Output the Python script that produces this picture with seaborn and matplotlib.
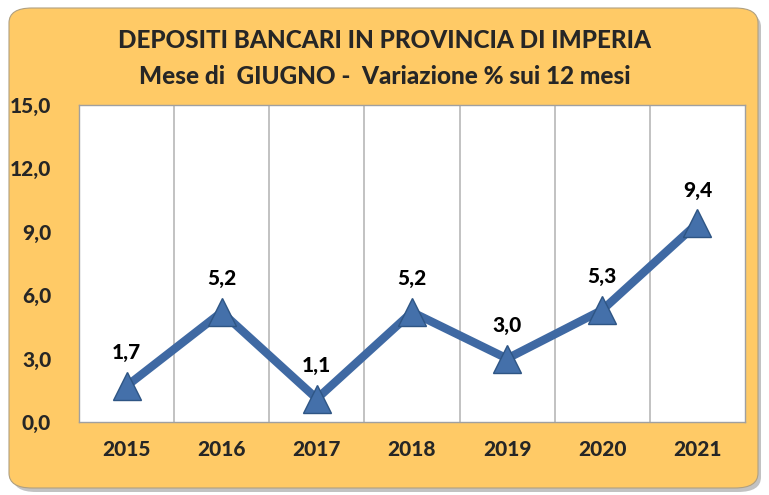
import matplotlib
matplotlib.use("Agg")
import matplotlib.pyplot as plt
import seaborn as sns
import pandas as pd
from matplotlib.patches import FancyBboxPatch

years = ["2015", "2016", "2017", "2018", "2019", "2020", "2021"]
values = [1.7, 5.2, 1.1, 5.2, 3.0, 5.3, 9.4]
labels = ["1,7", "5,2", "1,1", "5,2", "3,0", "5,3", "9,4"]
yticks = [0, 3, 6, 9, 12, 15]
ytick_labels = ["0,0", "3,0", "6,0", "9,0", "12,0", "15,0"]
title_lines = ["DEPOSITI BANCARI IN PROVINCIA DI IMPERIA",
               "Mese di  GIUGNO -  Variazione % sui 12 mesi"]

sns.set_theme(style="white")
plt.rcParams['font.family'] = ['Lato', 'DejaVu Sans']
WEIGHT = "black"

W, H = 769, 495
fig = plt.figure(figsize=(W / 100, H / 100), dpi=100)
fig.patch.set_facecolor("white")

# rounded orange background with soft shadow
shadow = FancyBboxPatch((13 / W, 3 / H), 748 / W, 480 / H,
                        boxstyle="round,pad=0,rounding_size=0.03",
                        transform=fig.transFigure, facecolor="#9a9a9a",
                        edgecolor="none", alpha=0.6, zorder=0)
bg = FancyBboxPatch((9 / W, 7 / H), 749 / W, 480 / H,
                    boxstyle="round,pad=0,rounding_size=0.03",
                    transform=fig.transFigure, facecolor="#FFCA66",
                    edgecolor="#b0a080", linewidth=0.8, zorder=1)
fig.patches.extend([shadow, bg])

left, right, top, bottom = 79, 745, 105, 422
ax = fig.add_axes([left / W, 1 - bottom / H, (right - left) / W, (bottom - top) / H])
ax.set_zorder(2)
ax.set_facecolor("white")

df = pd.DataFrame({"Anno": years, "Valore": values})
sns.lineplot(data=df, x="Anno", y="Valore", ax=ax, color="#3F69A3",
             linewidth=6, marker="^", markersize=20,
             markerfacecolor="#4470AA", markeredgecolor="#2E5584",
             markeredgewidth=1.0, sort=False, zorder=3)

for i, (v, lab) in enumerate(zip(values, labels)):
    ax.annotate(lab, (i, v), xytext=(0, 24), textcoords="offset points",
                ha="center", va="center", fontsize=15, fontweight=WEIGHT,
                color="black")

ax.set_xlim(-0.5, len(years) - 0.5)
ax.set_ylim(0, 15)
ax.set_yticks(yticks)
ax.set_yticklabels(ytick_labels, fontsize=15, fontweight=WEIGHT)
ax.set_xticks(range(len(years)))
ax.set_xticklabels(years, fontsize=15, fontweight=WEIGHT)
ax.set_xticks([i + 0.5 for i in range(len(years) - 1)], minor=True)
ax.grid(which="minor", axis="x", color="#b8b8b8", linewidth=1.2)
ax.grid(which="major", axis="both", visible=False)
ax.tick_params(axis="both", which="both", length=0)
ax.tick_params(axis="y", pad=20)
ax.tick_params(axis="x", pad=13)
ax.set_xlabel("")
ax.set_ylabel("")
for s in ax.spines.values():
    s.set_color("#a0a0a0")
    s.set_linewidth(1.0)

fig.text(0.5, 1 - 41 / H, title_lines[0], ha="center", va="center",
         fontsize=17.5, fontweight=WEIGHT)
fig.text(0.5, 1 - 76 / H, title_lines[1], ha="center", va="center",
         fontsize=17.5, fontweight=WEIGHT)

fig.savefig("out.png", dpi=100)
